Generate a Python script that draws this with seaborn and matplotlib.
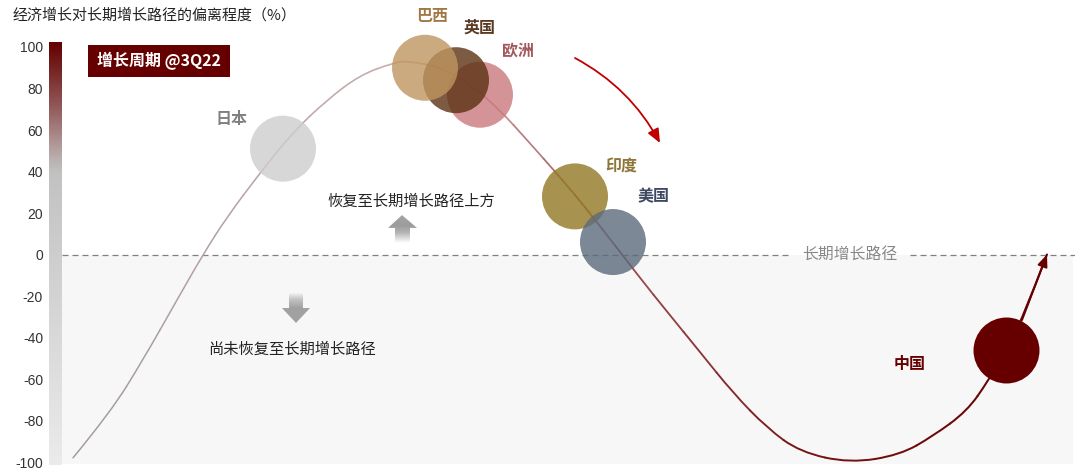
import numpy as np
import pandas as pd
import seaborn as sns
import matplotlib
matplotlib.use("Agg")
import matplotlib.pyplot as plt
from matplotlib.collections import PatchCollection
from matplotlib.colors import LinearSegmentedColormap
from matplotlib.patches import Polygon, Rectangle, PathPatch
from matplotlib.path import Path

# growth path: position along the cycle (no scale shown) vs deviation from long-run path (%)
path_pos = [73, 110, 143, 177, 203, 227, 260, 293, 327, 360, 393, 407, 440, 470, 500, 527,
            560, 590, 640, 667, 700, 733, 767, 800, 850, 900, 933, 967, 988, 1005, 1022, 1047]
path_dev = [-98, -76.4, -50.8, -21.9, 0, 18.1, 39.3, 59, 74.5, 86.5, 92.3, 93.3, 90.4, 82.2, 69.6, 55.2,
            37.3, 20, -11.3, -27.5, -47, -66.7, -83.6, -95.2, -100.5, -96.6, -87.5, -75.5, -61, -47, -31.6, 0]

# economies (drawing order matters for the overlaps)
countries = ["日本", "欧洲", "英国", "巴西", "印度", "美国"]
bubble_pos = [283, 480, 456, 425, 575, 613]
bubble_dev = [51, 77, 84, 90, 28, 6]
china_pos = [1006]
china_dev = [-46]

bubble_colors = {"日本": "#cecdce", "欧洲": "#ca7a7d", "英国": "#5c3213",
                 "巴西": "#c0955f", "印度": "#927723", "美国": "#5c6a7c"}
label_colors = {"日本": "#808080", "巴西": "#a07845", "英国": "#5a3a22", "欧洲": "#a0585c",
                "印度": "#8f7538", "美国": "#3f4a62", "中国": "#660000"}
label_xy = {"日本": (231, 119), "巴西": (432, 16), "英国": (480, 28), "欧洲": (518, 50),
            "印度": (621, 167), "美国": (653, 196), "中国": (910, 364)}
y_ticks = list(range(-100, 101, 20))

W, H = 1080, 476


def px(x, y):
    return x / W, 1 - y / H


sns.set_theme(style="white")
plt.rcParams["font.family"] = ["Noto Sans CJK SC", "DejaVu Sans"]

fig = plt.figure(figsize=(10.8, 4.76), dpi=100)
k = 2.075  # pixels per unit
ax = fig.add_axes([62 / W, (H - (254.5 + 104 * k)) / H, (1075 - 62) / W, 216 * k / H])

# shaded area below long-run path
ax.add_patch(Rectangle((62, -101), 1073 - 62, 101, facecolor="#f7f7f7", edgecolor="none", zorder=0))
ax.plot([62, 788], [0, 0], color="#808080", lw=0.9, dashes=(4.8, 3.2), zorder=1)
ax.plot([910, 1075], [0, 0], color="#808080", lw=0.9, dashes=(4.8, 3.2), zorder=1)

# smooth curve (quadratic pieces between midpoints) with colour gradient
curve_cmap = LinearSegmentedColormap.from_list(
    "curve", [(0, "#9f9999"), (0.25, "#c2a9a9"), (0.36, "#cdb0b0"), (0.47, "#b47f81"),
              (0.58, "#9a4a4c"), (0.75, "#761414"), (1, "#660000")])
pts = np.column_stack([path_pos, path_dev]).astype(float)
n = len(pts)
pieces, tvals = [], []
for i in range(1, n - 1):
    a = pts[0] if i == 1 else (pts[i - 1] + pts[i]) / 2
    b = pts[-1] if i == n - 2 else (pts[i] + pts[i + 1]) / 2
    pieces.append(PathPatch(Path([a, pts[i], b], [Path.MOVETO, Path.CURVE3, Path.CURVE3])))
    tvals.append((pts[i, 0] - pts[0, 0]) / (pts[-1, 0] - pts[0, 0]))
tvals = np.array(tvals)
pc = PatchCollection(pieces, facecolors="none", edgecolors=curve_cmap(tvals),
                     linewidths=1.05 + 0.45 * tvals, capstyle="round", zorder=2)
ax.add_collection(pc)
ax.annotate("", xy=(path_pos[-1], path_dev[-1]), xytext=(path_pos[-2], path_dev[-2]),
            arrowprops=dict(arrowstyle="-|>,head_length=0.6,head_width=0.25", color="#660000",
                            lw=1.4, shrinkA=0, shrinkB=0), zorder=2)

# bubbles
df = pd.DataFrame({"country": countries, "pos": bubble_pos, "dev": bubble_dev})
sns.scatterplot(data=df, x="pos", y="dev", hue="country", palette=bubble_colors, s=2257,
                alpha=0.8, linewidth=0, legend=False, ax=ax, zorder=3, clip_on=False)
sns.scatterplot(x=china_pos, y=china_dev, color="#660000", s=2257, linewidth=0,
                ax=ax, zorder=4, clip_on=False)


def grad_arrow(verts, stops):
    poly = Polygon(verts, closed=True, facecolor="none", edgecolor="none")
    ax.add_patch(poly)
    xs = [v[0] for v in verts]
    ys = [v[1] for v in verts]
    cm = LinearSegmentedColormap.from_list("a", stops)
    img = ax.imshow(np.linspace(1, 0, 100)[:, None], cmap=cm, vmin=0, vmax=1, aspect="auto",
                    extent=[min(xs), max(xs), min(ys), max(ys)], zorder=2, interpolation="bilinear")
    img.set_clip_path(poly)


grad_arrow([(388, 12.8), (402, 19.0), (417, 12.8), (410, 12.8), (410, 5.5), (395, 5.5), (395, 12.8)],
           [(0, "#ffffff"), (0.35, "#b5b5b5"), (0.6, "#9c9c9c"), (1, "#a6a6a6")])
grad_arrow([(289, -18.6), (303, -18.6), (303, -25.8), (310, -25.8), (296, -33), (282, -25.8), (289, -25.8)],
           [(0, "#a3a3a3"), (0.5, "#a0a0a0"), (0.8, "#c4c4c4"), (1, "#f2f2f2")])

ax.set_xlim(62, 1075)
ax.set_ylim(-104, 112)
ax.axis("off")

# left colour bar with y scale
cax = fig.add_axes([49 / W, (H - 465) / H, 13 / W, 423 / H])
cb_cmap = LinearSegmentedColormap.from_list(
    "cb", [(0, "#ebebeb"), (0.69, "#c2c2c2"), (0.72, "#bbb3b3"), (0.77, "#ad9090"),
           (0.85, "#915858"), (0.93, "#782828"), (1, "#630000")])
cax.imshow(np.linspace(1, 0, 256)[:, None], cmap=cb_cmap, aspect="auto",
           extent=[0, 1, -101.4, 102.4])
cax.set_xticks([])
cax.set_yticks(y_ticks)
cax.set_yticklabels([str(v) for v in y_ticks], fontfamily="Liberation Sans")
cax.tick_params(axis="y", length=0, pad=4.3, labelsize=10, labelcolor="#333333")
for s in cax.spines.values():
    s.set_visible(False)

# texts
fig.text(*px(13, 15), "经济增长对长期增长路径的偏离程度（%）", fontsize=10.8, color="#222222",
         ha="left", va="center", style="italic")
fig.patches.append(Rectangle(px(88, 77), 142 / W, 32 / H, transform=fig.transFigure,
                             facecolor="#660000", edgecolor="none", zorder=5))
fig.text(*px(159, 61), "增长周期 @3Q22", fontsize=11.5, color="white", fontweight="bold",
         ha="center", va="center", style="italic", zorder=6)
for name, (lx, ly) in label_xy.items():
    fig.text(*px(lx, ly), name, fontsize=11.5, color=label_colors[name], ha="center", va="center",
             fontweight="bold")
fig.text(*px(411, 201), "恢复至长期增长路径上方", fontsize=11, color="#222222",
         ha="center", va="center", style="italic")
fig.text(*px(292, 349), "尚未恢复至长期增长路径", fontsize=11, color="#222222",
         ha="center", va="center", style="italic")
fig.text(*px(850, 254), "长期增长路径", fontsize=11.4, color="#888888",
         ha="center", va="center", style="italic")

# trend arrow
ax.annotate("", xy=px(660, 143), xytext=px(575, 58), xycoords="figure fraction",
            textcoords="figure fraction",
            arrowprops=dict(arrowstyle="-|>,head_length=0.7,head_width=0.3", color="#c00000",
                            lw=1.3, connectionstyle="arc3,rad=-0.15", shrinkA=0, shrinkB=0))

fig.savefig("out.png", dpi=100)
